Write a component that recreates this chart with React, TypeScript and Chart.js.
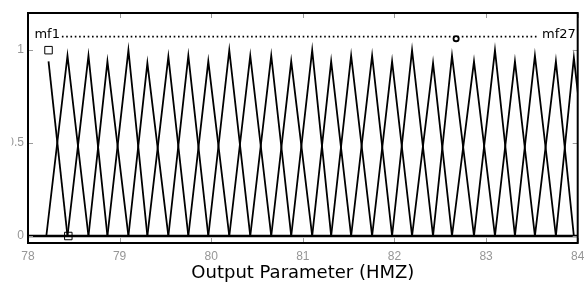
import React, { useEffect, useRef } from 'react';
import { Chart, registerables } from 'chart.js';

Chart.register(...registerables);

// ---- data ----
const xTicks = [78, 79, 80, 81, 82, 83, 84];
const yTicks = [0, 0.5, 1];
const mfNames = ['mf1', 'mf27'];
const rangeStart = 78.2;
const rangeEnd = 84;
const lastRightFoot = 84.18;
const mfCenters = [
  78.224, 78.431, 78.66, 78.867, 79.096, 79.303, 79.532, 79.75, 79.968,
  80.197, 80.426, 80.655, 80.873, 81.102, 81.309, 81.527, 81.756, 81.974,
  82.192, 82.421, 82.628, 82.868, 83.097, 83.315, 83.533, 83.762, 83.958,
];
const mfPeaks = [
  0.94, 0.97, 0.97, 0.94, 1.0, 0.93, 0.965, 0.97, 0.94,
  1.0, 0.97, 0.97, 0.94, 1.0, 0.94, 0.97, 0.97, 0.94,
  1.0, 0.93, 0.97, 0.94, 1.0, 0.94, 0.97, 0.94, 0.96,
];
const squareMarkers = [
  { x: 78.224, y: 1.0 },
  { x: 78.44, y: 0 },
];
const circleMarker = [{ x: 82.673, y: 1.062 }];
const dottedLine = [
  { x: 78.37, y: 1.073 },
  { x: 83.58, y: 1.073 },
];
const labelPos = [
  { x: 78.07, y: 1.064 },
  { x: 83.61, y: 1.064 },
];

function buildTriangles() {
  return mfCenters.map((c, k) => {
    const pts: { x: number; y: number }[] = [];
    if (k === 1) pts.push({ x: rangeStart, y: 0 });
    else if (k > 1) pts.push({ x: mfCenters[k - 1], y: 0 });
    pts.push({ x: c, y: mfPeaks[k] });
    if (k === mfCenters.length - 1) pts.push({ x: lastRightFoot, y: 0 });
    else pts.push({ x: mfCenters[k + 1], y: 0 });
    return {
      label: 'mf' + (k + 1),
      data: pts,
      borderColor: '#000',
      borderWidth: 1.8,
      pointRadius: 0,
      fill: false,
      tension: 0,
    };
  });
}

const framePlugin = {
  id: 'frameAndTicks',
  afterDraw(chart: any) {
    const { ctx, chartArea } = chart;
    const xs = chart.scales.x;
    const ys = chart.scales.y;
    ctx.save();
    ctx.strokeStyle = '#9a9a9a';
    ctx.lineWidth = 1;
    const tl = 5;
    xTicks.forEach((v) => {
      const px = Math.round(xs.getPixelForValue(v)) + 0.5;
      ctx.beginPath();
      ctx.moveTo(px, chartArea.top);
      ctx.lineTo(px, chartArea.top + tl);
      ctx.moveTo(px, chartArea.bottom);
      ctx.lineTo(px, chartArea.bottom - tl);
      ctx.stroke();
    });
    yTicks.forEach((v) => {
      const py = Math.round(ys.getPixelForValue(v)) + 0.5;
      ctx.beginPath();
      ctx.moveTo(chartArea.left, py);
      ctx.lineTo(chartArea.left + tl, py);
      ctx.moveTo(chartArea.right, py);
      ctx.lineTo(chartArea.right - tl, py);
      ctx.stroke();
    });
    ctx.strokeStyle = '#000';
    ctx.lineWidth = 2;
    ctx.strokeRect(chartArea.left, chartArea.top, chartArea.right - chartArea.left, chartArea.bottom - chartArea.top);
    ctx.fillStyle = '#000';
    ctx.font = '13px "DejaVu Sans"';
    ctx.textBaseline = 'alphabetic';
    ctx.textAlign = 'left';
    mfNames.forEach((n, i) => {
      ctx.fillText(n, xs.getPixelForValue(labelPos[i].x), ys.getPixelForValue(labelPos[i].y));
    });
    ctx.fillStyle = '#fff';
    ctx.fillRect(0, 0, 11.5, chartArea.bottom);
    ctx.restore();
  },
};

export default function App() {
  const ref = useRef<HTMLCanvasElement | null>(null);
  useEffect(() => {
    if (!ref.current) return;
    const datasets: any[] = [
      {
        label: 'zero',
        data: [
          { x: xTicks[0], y: 0 },
          { x: rangeEnd, y: 0 },
        ],
        borderColor: '#000',
        borderWidth: 2.6,
        pointRadius: 0,
      },
      ...buildTriangles(),
      {
        label: 'dots',
        data: dottedLine,
        borderColor: '#000',
        borderWidth: 1.7,
        borderDash: [1.6, 2.7],
        pointRadius: 0,
      },
      {
        label: 'squares',
        data: squareMarkers,
        showLine: false,
        pointStyle: 'rect',
        pointRadius: 5.3,
        pointBorderWidth: 1,
        pointBorderColor: '#000',
        pointBackgroundColor: 'rgba(0,0,0,0)',
        clip: false,
      },
      {
        label: 'circle',
        data: circleMarker,
        showLine: false,
        pointStyle: 'circle',
        pointRadius: 2.6,
        pointBorderWidth: 1.8,
        pointBorderColor: '#000',
        pointBackgroundColor: '#fff',
      },
    ];
    const chart = new Chart(ref.current, {
      type: 'line',
      data: { datasets },
      options: {
        animation: false,
        responsive: false,
        events: [],
        layout: { padding: { left: 0, top: 13, right: 5, bottom: 0 } },
        plugins: { legend: { display: false }, tooltip: { enabled: false } },
        scales: {
          x: {
            type: 'linear',
            min: 78,
            max: 84,
            grid: { display: false, drawTicks: false },
            border: { display: false },
            afterBuildTicks: (s: any) => {
              s.ticks = xTicks.map((v) => ({ value: v }));
            },
            afterFit: (s: any) => {
              s.height = 42;
              s.paddingLeft = 0;
              s.paddingRight = 0;
            },
            ticks: {
              padding: 6,
              color: '#969696',
              font: { family: 'Liberation Sans', size: 12 },
              maxRotation: 0,
              autoSkip: false,
            },
            title: {
              display: true,
              text: 'Output Parameter (HMZ)',
              color: '#000',
              font: { family: 'DejaVu Sans', size: 18 },
              padding: { top: 0, bottom: 1 },
            },
          },
          y: {
            type: 'linear',
            min: -0.0376,
            max: 1.2,
            grid: { display: false, drawTicks: false },
            border: { display: false },
            afterBuildTicks: (s: any) => {
              s.ticks = yTicks.map((v) => ({ value: v }));
            },
            afterFit: (s: any) => {
              s.width = 28;
              s.paddingTop = 0;
              s.paddingBottom = 0;
            },
            ticks: {
              padding: 4,
              color: '#969696',
              font: { family: 'Liberation Sans', size: 12 },
              callback: (v: any) => String(v),
            },
          },
        },
      },
      plugins: [framePlugin],
    });
    return () => chart.destroy();
  }, []);
  return (
    <div style={{ position: 'absolute', left: 0, top: 0, width: 584, height: 285, background: '#fff' }}>
      <canvas ref={ref} width={584} height={285} style={{ display: 'block' }} />
    </div>
  );
}
